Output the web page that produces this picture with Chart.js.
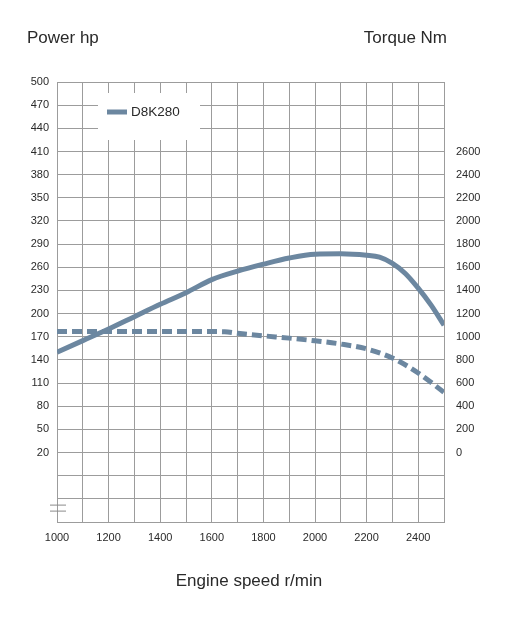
<!DOCTYPE html>
<html>
<head>
<meta charset="utf-8">
<script src="https://cdn.jsdelivr.net/npm/chart.js@4"></script>
<style>
    html, body { margin: 0; padding: 0; background: #fff; }
    #engineChart { display: block; }
</style>
</head>
<body>
<canvas id="engineChart" width="522" height="622"></canvas>
<script>
// Engine curve, D8K280
const seriesName = 'D8K280';

// power (hp)
const powerRpm = [1000, 1100, 1200, 1300, 1400, 1500, 1600, 1700, 1800, 1900, 2000, 2100, 2200, 2250, 2300, 2350, 2400, 2450, 2500];
const powerHp  = [150, 165, 180, 196, 212, 227, 244, 255, 264, 272, 277, 277.5, 275.5, 273, 265, 252, 233, 211, 185];

// torque (Nm)
const torqueRpm = [1000, 1200, 1400, 1600, 1650, 1700, 1800, 1900, 2000, 2100, 2200, 2300, 2400, 2500];
const torqueNm  = [1045, 1045, 1045, 1045, 1043, 1030, 1008, 988, 965, 937, 895, 816, 687, 520];

const lineColor = '#6c87a0';
const gridColor = '#9c9c9c';
const textColor = '#2a2a2a';
const fontFamily = '"Liberation Sans", Helvetica, Arial, sans-serif';

const toPoints = (xs, ys) => xs.map((x, i) => ({ x: x, y: ys[i] }));

// titles, legend box and the axis break mark
const decorations = {
    id: 'decorations',
    afterDraw(chart) {
        const ctx = chart.ctx;
        const area = chart.chartArea;
        const yScale = chart.scales.y;

        ctx.save();
        ctx.fillStyle = textColor;
        ctx.font = '17px ' + fontFamily;
        ctx.textBaseline = 'middle';
        ctx.textAlign = 'left';
        ctx.fillText('Power hp', 27, 38);
        ctx.textAlign = 'right';
        ctx.fillText('Torque Nm', 447, 38);
        ctx.textAlign = 'center';
        ctx.fillText('Engine speed r/min', 249, 581);

        // legend inside the plot
        const lx = area.left + 41;
        const ly = area.top + 11;
        ctx.fillStyle = '#fff';
        ctx.fillRect(lx, ly, 102, 47);
        ctx.strokeStyle = lineColor;
        ctx.lineWidth = 5;
        ctx.beginPath();
        ctx.moveTo(lx + 9, ly + 19);
        ctx.lineTo(lx + 29, ly + 19);
        ctx.stroke();
        ctx.fillStyle = textColor;
        ctx.font = '13.5px ' + fontFamily;
        ctx.textAlign = 'left';
        ctx.fillText(seriesName, lx + 33, ly + 19);

        // broken axis mark
        const by = yScale.getPixelForValue(-52);
        ctx.strokeStyle = '#8a8a8a';
        ctx.lineWidth = 1;
        ctx.beginPath();
        ctx.moveTo(area.left - 7, by - 3);
        ctx.lineTo(area.left + 9, by - 3);
        ctx.moveTo(area.left - 7, by + 3);
        ctx.lineTo(area.left + 9, by + 3);
        ctx.stroke();
        ctx.restore();
    }
};

const ctx = document.getElementById('engineChart').getContext('2d');
const engineChart = new Chart(ctx, {
    type: 'line',
    data: {
        datasets: [{
            label: seriesName + ' power',
            data: toPoints(powerRpm, powerHp),
            yAxisID: 'y',
            borderColor: lineColor,
            borderWidth: 5,
            cubicInterpolationMode: 'monotone',
            pointRadius: 0,
            fill: false,
        }, {
            label: seriesName + ' torque',
            data: toPoints(torqueRpm, torqueNm),
            yAxisID: 'y1',
            borderColor: lineColor,
            borderWidth: 5,
            borderDash: [10, 5],
            cubicInterpolationMode: 'monotone',
            pointRadius: 0,
            fill: false,
        }]
    },
    options: {
        responsive: false,
        animation: false,
        layout: { padding: { top: 82, left: 0, right: 0, bottom: 0 } },
        plugins: {
            legend: { display: false },
            tooltip: { enabled: false },
        },
        scales: {
            x: {
                type: 'linear',
                min: 1000,
                max: 2500,
                afterFit: (scale) => { scale.height = 100; },
                grid: { color: gridColor, drawTicks: false },
                border: { color: gridColor },
                ticks: {
                    stepSize: 100,
                    padding: 9,
                    color: textColor,
                    font: { family: fontFamily, size: 11 },
                    maxRotation: 0,
                    autoSkip: false,
                    callback: (v) => (v % 200 === 0 ? String(v) : ''),
                },
            },
            y: {
                position: 'left',
                min: -70,
                max: 500,
                afterFit: (scale) => { scale.width = 57; },
                grid: { color: gridColor, drawTicks: false },
                border: { color: gridColor },
                ticks: {
                    stepSize: 30,
                    padding: 8,
                    color: textColor,
                    font: { family: fontFamily, size: 11 },
                    autoSkip: false,
                    callback: (v) => (v >= 20 ? String(v) : ''),
                },
            },
            y1: {
                position: 'right',
                min: -600,
                max: 3200,
                afterFit: (scale) => { scale.width = 78; },
                grid: { display: false, drawTicks: false },
                border: { display: false },
                ticks: {
                    stepSize: 200,
                    padding: 12,
                    color: textColor,
                    font: { family: fontFamily, size: 11 },
                    autoSkip: false,
                    callback: (v) => (v >= 0 && v <= 2600 ? String(v) : ''),
                },
            },
        },
    },
    plugins: [decorations],
});
</script>
</body>
</html>
